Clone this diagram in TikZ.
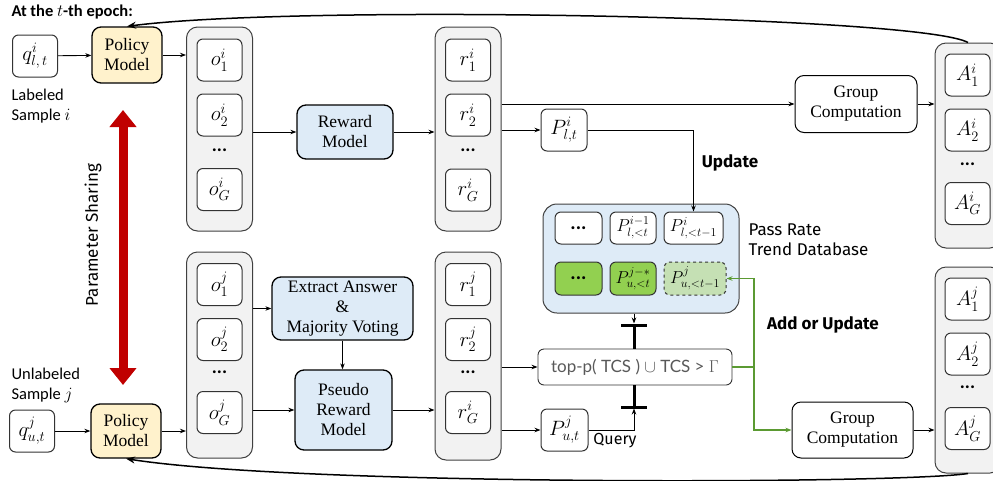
\documentclass[tikz,border=0pt]{standalone}
\usepackage{fontspec}
\usepackage{amsmath}
\usepackage{tikz}
\usetikzlibrary{arrows.meta}

\setmainfont{Liberation Serif}
\newfontfamily\calibrifont{Carlito}
\newfontfamily\handfont{Fira Sans}
\newfontfamily\thinfont{Lato}

\definecolor{policyfill}{HTML}{FFF2CC}
\definecolor{modelfill}{HTML}{DEEBF7}
\definecolor{colfill}{HTML}{F2F2F2}
\definecolor{dbgreen}{HTML}{92D050}
\definecolor{dblight}{HTML}{C5E0B4}
\definecolor{addgreen}{HTML}{5B9A32}
\definecolor{sharered}{HTML}{C00000}

\tikzset{
  cell/.style={shape=rectangle, draw=black!80, fill=white, rounded corners=6pt, line width=1pt,
    minimum width=45pt, minimum height=42pt, inner sep=0pt, font=\fontsize{20}{22}\selectfont},
  column/.style={shape=rectangle, draw=black!75, fill=colfill, rounded corners=11pt, line width=1pt,
    minimum width=66pt, inner sep=0pt},
  model/.style={shape=rectangle, draw=black, rounded corners=9pt, line width=1.3pt, align=center,
    inner sep=0pt, font=\fontsize{17.5}{20}\selectfont},
  colmore/.style={font=\calibrifont\bfseries\fontsize{19}{19}\selectfont},
  conn/.style={-{Stealth[length=6pt,width=4.5pt]}, line width=0.9pt},
  loop/.style={-{Stealth[length=9pt,width=7pt]}, line width=1.5pt},
  gate/.style={line width=3pt},
  hand/.style={font=\handfont\fontsize{17}{20}\selectfont},
  sans/.style={font=\calibrifont\fontsize{16.5}{20}\selectfont},
}

\begin{document}
\begin{tikzpicture}[x=1pt, y=-1pt]
    \useasboundingbox (0,0) rectangle (993,480);
    \clip (0,0) rectangle (993,480);

    \node[anchor=west, font=\calibrifont\bfseries\fontsize{16.5}{18}\selectfont] (title) at (8,12) {At the $t$-th epoch:};

    % labeled sample
    \node[cell] (ql) at (35,56) {$q^{i}_{l,\,t}$};
    \node[model, fill=policyfill, minimum width=70pt, minimum height=56pt] (pol1) at (127,55) {Policy\\Model};
    \node[sans, anchor=north west, align=left] (lab) at (8,86) {Labeled\\Sample $i$};

    \node[column, minimum height=204pt] (colo1) at (219.5,129) {};
    \node[cell] (o11) at (219.5,60) {$o^{i}_{1}$};
    \node[cell] (o12) at (219.5,115) {$o^{i}_{2}$};
    \node[colmore] (o1d) at (219.5,150) {...};
    \node[cell] (o1g) at (219.5,189.5) {$o^{i}_{G}$};

    \node[model, fill=modelfill, minimum width=96pt, minimum height=54pt] (rm) at (345,132) {Reward\\Model};

    \node[column, minimum height=204pt] (colr1) at (468,129) {};
    \node[cell] (r11) at (468,60) {$r^{i}_{1}$};
    \node[cell] (r12) at (468,115) {$r^{i}_{2}$};
    \node[colmore] (r1d) at (468,150) {...};
    \node[cell] (r1g) at (468,190) {$r^{i}_{G}$};

    \node[cell, minimum width=46pt] (pli) at (564,130) {$P^{i}_{l,t}$};
    \node[model, line width=1pt, minimum width=122pt, minimum height=57pt] (grp1) at (856,104) {Group\\Computation};

    \node[column, minimum height=205pt] (colA1) at (968,145.5) {};
    \node[cell] (a11) at (967.5,75) {$A^{i}_{1}$};
    \node[cell] (a12) at (967.5,130) {$A^{i}_{2}$};
    \node[colmore] (a1d) at (967.5,164) {...};
    \node[cell] (a1g) at (967.5,203.5) {$A^{i}_{G}$};

    % unlabeled sample
    \node[cell] (qu) at (32,431) {$q^{j}_{u,t}$};
    \node[model, fill=policyfill, minimum width=70pt, minimum height=54pt] (pol2) at (126,431) {Policy\\Model};
    \node[sans, anchor=north west, align=left] (unlab) at (8,365) {Unlabeled\\Sample $j$};

    \node[column, minimum height=206pt] (colo2) at (219.5,355) {};
    \node[cell] (o21) at (219.5,284.5) {$o^{j}_{1}$};
    \node[cell] (o22) at (219.5,339.5) {$o^{j}_{2}$};
    \node[colmore] (o2d) at (219.5,372) {...};
    \node[cell] (o2g) at (219.5,412.5) {$o^{j}_{G}$};

    \node[model, fill=modelfill, minimum width=141pt, minimum height=63pt] (ext) at (342.5,308.5) {Extract Answer\\\&\\Majority Voting};
    \node[model, fill=modelfill, minimum width=97pt, minimum height=80pt] (prm) at (343.5,410) {Pseudo\\Reward\\Model};

    \node[column, minimum height=208pt] (colr2) at (468,356) {};
    \node[cell] (r21) at (468,284.5) {$r^{j}_{1}$};
    \node[cell] (r22) at (468,339.5) {$r^{j}_{2}$};
    \node[colmore] (r2d) at (468,372) {...};
    \node[cell] (r2g) at (468,412.5) {$r^{i}_{G}$};

    \node[cell, minimum width=47pt] (puj) at (564.5,430) {$P^{j}_{u,t}$};
    \node[shape=rectangle, draw=black!80, rounded corners=6pt, line width=0.9pt, minimum width=194pt,
      minimum height=36pt, text=black!65, font=\thinfont\fontsize{17}{20}\selectfont] (tcs) at (635,367)
      {top-p( TCS ) $\cup$ TCS > $\Gamma$};
    \node[hand, font=\handfont\fontsize{16}{18}\selectfont] (query) at (615,441) {Query};

    \node[model, line width=1pt, minimum width=121pt, minimum height=56pt] (grp2) at (852.5,430) {Group\\Computation};

    \node[column, minimum height=206pt] (colA2) at (968,370) {};
    \node[cell] (a21) at (967.5,299) {$A^{j}_{1}$};
    \node[cell] (a22) at (967.5,354) {$A^{j}_{2}$};
    \node[colmore] (a2d) at (967.5,387) {...};
    \node[cell] (a2g) at (967.5,428.5) {$A^{j}_{G}$};

    % pass rate database
    \node[shape=rectangle, draw=black!75, fill=modelfill, rounded corners=14pt, line width=1pt,
      minimum width=196pt, minimum height=109pt] (db) at (641,258.5) {};
    \node[cell, minimum width=47pt, minimum height=32pt] (db11) at (578.5,228) {\calibrifont\bfseries ...};
    \node[cell, minimum width=46pt, minimum height=32pt, font=\fontsize{18}{20}\selectfont] (db12) at (633,228) {$P^{i-1}_{l,<t}$};
    \node[cell, minimum width=59pt, minimum height=32pt, font=\fontsize{18}{20}\selectfont] (db13) at (693.5,228) {$P^{i}_{l,<t-1}$};
    \node[cell, fill=dbgreen, minimum width=47pt, minimum height=33pt] (db21) at (578.5,278.5) {\calibrifont\bfseries ...};
    \node[cell, fill=dbgreen, minimum width=46pt, minimum height=33pt, font=\fontsize{18}{20}\selectfont] (db22) at (633,278.5) {$P^{j-*}_{u,<t}$};
    \node[cell, fill=dblight, dashed, minimum width=62pt, minimum height=33pt, font=\fontsize{18}{20}\selectfont] (db23) at (695,278.5) {$P^{j}_{u,<t-1}$};
    \node[hand, anchor=west, align=left] (dblabel) at (745,240) {Pass Rate\\Trend Database};

    \node[hand, font=\handfont\bfseries\fontsize{17}{20}\selectfont] (upd) at (730,163) {Update};
    \node[hand, font=\handfont\bfseries\fontsize{17}{20}\selectfont] (addupd) at (823,325) {Add or Update};

    % parameter sharing
    \coordinate (shtop) at (123,110);
    \coordinate (shbot) at (123,385);
    \draw[sharered, line width=9pt, {Triangle[length=17pt,width=26pt]}-{Triangle[length=17pt,width=26pt]}] (shtop) -- (shbot);
    \node[hand, rotate=90] (share) at (93,235) {Parameter Sharing};

    % connectors, labeled branch
    \draw[conn] (ql) -- (pol1);
    \draw[conn] (pol1.east) -- (pol1.east -| colo1.west);
    \draw[conn] (colo1.east |- rm.west) -- (rm.west);
    \draw[conn] (rm.east) -- (rm.east -| colr1.west);
    \draw[conn] (colr1.east |- grp1.west) -- (grp1.west);
    \draw[conn] (colr1.east |- pli.west) -- (pli.west);
    \draw[conn] (grp1.east) -- (grp1.east -| colA1.west);
    \draw[conn] (pli.east) -| (db13.north);

    % connectors, unlabeled branch
    \draw[conn] (qu) -- (pol2);
    \draw[conn] (pol2.east) -- (pol2.east -| colo2.west);
    \draw[conn] (colo2.east |- ext.west) -- (ext.west);
    \draw[conn] (ext.south) -- (ext.south |- prm.north);
    \draw[conn] (colo2.east |- prm.west) -- (prm.west);
    \draw[conn] (prm.east) -- (prm.east -| colr2.west);
    \draw[conn] (colr2.east |- tcs.west) -- (tcs.west);
    \draw[conn] (colr2.east |- puj.west) -- (puj.west);
    \draw[conn] (grp2.east) -- (grp2.east -| colA2.west);

    % gates round the filter
    \coordinate (gup) at (634,325);
    \coordinate (gdown) at (634,407);
    \draw[gate] ([xshift=-13pt]gup) -- ([xshift=13pt]gup);
    \draw[gate] (gup) -- (gup |- tcs.north);
    \draw[conn] (db.south -| gup) -- ([yshift=1.5pt]gup);
    \draw[gate] ([xshift=-13pt]gdown) -- ([xshift=13pt]gdown);
    \draw[gate] (tcs.south -| gdown) -- (gdown);
    \draw[conn] (puj.east) -| ([yshift=-1.5pt]gdown);

    % add or update
    \coordinate (gsplit) at (754,367);
    \draw[addgreen, line width=1.2pt] (tcs.east) -- (gsplit);
    \draw[conn, addgreen, line width=1.2pt] (gsplit) |- (db23.east);
    \draw[conn, addgreen, line width=1.2pt] (gsplit) |- (grp2.west);

    % feedback to the policy
    \draw[loop] (colA1.north) .. controls (920,16) and (300,4) .. (pol1.north);
    \draw[loop] (colA2.south) .. controls (900,484) and (300,486) .. (pol2.south);
\end{tikzpicture}
\end{document}
